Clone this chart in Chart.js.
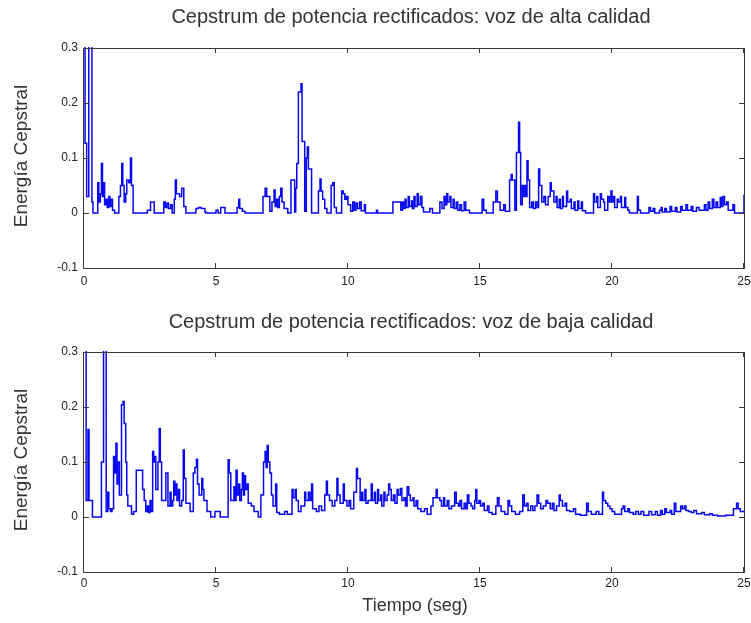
<!DOCTYPE html>
<html>
<head>
<meta charset="utf-8">
<script src="https://cdn.jsdelivr.net/npm/chart.js@4.4.1/dist/chart.umd.min.js"></script>
<style>
  html, body { margin: 0; padding: 0; background: #fff; }
  #wrap { position: relative; width: 751px; height: 623px; overflow: hidden; }
  canvas { position: absolute; left: 0; }
  #cTop { top: 0; }
  #cBot { top: 300px; }
</style>
</head>
<body>
<div id="wrap">
  <canvas id="cTop" width="751" height="300"></canvas>
  <canvas id="cBot" width="751" height="323"></canvas>
</div>
<script>
// ---- Data (time in seconds, value holds until the next time) ----
const topTitle = 'Cepstrum de potencia rectificados: voz de alta calidad';
const botTitle = 'Cepstrum de potencia rectificados: voz de baja calidad';
const yAxisTitle = 'Energía Cepstral';
const xAxisTitle = 'Tiempo (seg)';

const xTickValues = [0, 5, 10, 15, 20, 25];
const xTickLabels = ['0', '5', '10', '15', '20', '25'];
const yTickValues = [-0.1, 0, 0.1, 0.2, 0.3];
const yTickLabels = ['-0.1', '0', '0.1', '0.2', '0.3'];

const topTimes = [
  0.00,0.04,0.10,0.18,0.30,0.34,0.52,0.56,0.62,0.66,0.70,0.74,0.78,0.84,0.88,0.94,0.98,1.02,1.08,1.16,
  1.32,1.38,1.43,1.47,1.52,1.58,1.62,1.70,1.76,1.80,1.86,2.40,2.52,2.66,3.02,3.08,3.14,3.20,3.28,3.34,
  3.42,3.46,3.50,3.62,3.70,3.78,3.86,4.24,4.34,4.44,4.58,4.62,5.00,5.08,5.18,5.34,5.80,5.86,5.90,6.00,
  6.10,6.78,6.86,6.92,7.04,7.12,7.20,7.24,7.30,7.34,7.40,7.45,7.50,7.58,7.72,7.84,7.98,8.02,8.06,8.12,
  8.22,8.26,8.36,8.42,8.46,8.50,8.62,8.88,8.94,8.98,9.04,9.12,9.20,9.36,9.42,9.48,9.56,9.76,9.82,9.88,
  9.94,10.00,10.10,10.18,10.24,10.30,10.36,10.44,10.50,10.62,10.66,11.08,11.12,11.70,12.00,12.06,12.10,12.16,12.20,12.28,
  12.32,12.40,12.44,12.50,12.54,12.62,12.66,12.74,12.80,12.86,13.10,13.20,13.48,13.56,13.64,13.68,13.74,13.78,13.86,13.90,
  13.98,14.02,14.10,14.16,14.24,14.30,14.40,14.46,14.60,15.08,15.14,15.24,15.50,15.60,15.66,15.76,15.90,15.96,16.12,16.18,
  16.22,16.32,16.38,16.46,16.50,16.54,16.60,16.64,16.70,16.74,16.78,16.82,16.88,16.96,17.02,17.10,17.16,17.22,17.26,17.34,
  17.42,17.48,17.58,17.66,17.70,17.80,17.88,17.92,18.00,18.04,18.12,18.16,18.28,18.32,18.42,18.46,18.56,18.60,18.70,18.74,
  18.84,18.88,19.00,19.30,19.34,19.42,19.46,19.56,19.60,19.68,19.72,19.84,19.90,19.96,20.00,20.06,20.10,20.20,20.24,20.32,
  20.36,20.48,20.52,20.60,20.66,20.96,21.00,21.08,21.40,21.46,21.56,21.62,21.80,21.86,21.90,22.00,22.06,22.20,22.26,22.40,
  22.46,22.60,22.66,22.80,22.86,23.00,23.06,23.20,23.30,23.50,23.56,23.64,23.70,23.80,23.86,23.94,24.00,24.10,24.14,24.20,
  24.26,24.34,24.40,24.58,24.64,25.00,25.20
];
const topValues = [
  0.45,0.127,0.03,0.45,0.02,0,0.055,0.02,0.035,0.09,0.03,0.055,0.015,0.025,0.01,0.03,0.012,0.025,0.005,0,
  0.03,0.05,0.09,0.05,0.02,0.035,0.06,0.055,0.10,0.05,0,0.005,0.02,0,0.02,0.01,0.018,0.008,0.015,0,
  0.025,0.06,0.035,0.03,0.045,0.012,0,0.008,0.01,0.008,0.002,0,0.005,0,0.01,0,0.01,0.025,0.008,0.003,
  0,0.03,0.045,0.03,0.003,0.02,0.042,0.012,0.025,0.01,0.03,0.045,0.02,0.008,0,0.06,0.002,0.045,0.09,0.22,
  0.235,0.13,0.003,0.10,0.12,0.08,0,0.04,0.062,0.04,0.025,0.008,0,0.05,0.055,0.01,0,0.04,0.035,0.025,
  0.03,0.015,0.003,0.02,0.005,0.018,0.008,0.02,0.004,0.015,0,0.005,0,0.02,0.005,0.02,0.008,0.025,0.01,0.03,
  0.012,0.022,0.008,0.03,0.012,0.035,0.015,0.03,0.01,0.002,0.008,0,0.02,0.008,0.03,0.015,0.035,0.02,0.03,0.01,
  0.025,0.008,0.02,0.005,0.015,0.004,0.02,0.005,0,0.025,0.005,0,0.02,0.04,0.02,0.005,0.015,0.003,0.06,0.07,
  0.06,0.005,0.11,0.165,0.11,0.015,0.05,0.03,0.05,0.03,0.095,0.06,0.01,0.02,0.008,0.02,0.01,0.08,0.05,0.02,
  0.03,0.015,0.03,0.055,0.04,0.02,0.03,0.01,0.025,0.008,0.03,0.012,0.04,0.02,0.025,0.008,0.02,0.005,0.022,0.008,
  0.02,0.004,0,0.035,0.02,0.03,0.01,0.035,0.025,0.02,0.005,0.03,0.02,0.04,0.02,0.03,0.01,0.025,0.02,0.03,
  0.01,0.028,0.01,0.005,0,0.03,0.005,0,0.01,0.003,0.008,0,0.005,0.01,0.002,0.008,0.002,0.012,0.003,0.01,
  0.002,0.012,0.005,0.015,0.005,0.012,0.003,0.01,0.005,0.015,0.005,0.02,0.008,0.025,0.01,0.02,0.01,0.028,0.012,0.03,
  0.015,0.02,0.005,0.015,0,0.033,0.033
];

const botTimes = [
  0.00,0.08,0.15,0.19,0.32,0.66,0.74,0.84,0.90,0.94,1.00,1.06,1.12,1.17,1.21,1.25,1.28,1.34,1.42,1.48,
  1.52,1.58,1.62,1.66,1.80,1.88,1.98,2.22,2.28,2.34,2.40,2.44,2.50,2.54,2.60,2.64,2.68,2.72,2.80,2.85,
  2.89,2.94,3.10,3.18,3.26,3.30,3.36,3.40,3.44,3.48,3.52,3.58,3.62,3.70,3.76,3.80,3.86,4.02,4.14,4.20,
  4.26,4.30,4.36,4.46,4.50,4.54,4.66,4.80,4.96,5.16,5.46,5.50,5.56,5.68,5.72,5.76,5.80,5.86,5.90,5.96,
  6.00,6.04,6.08,6.12,6.18,6.22,6.34,6.44,6.60,6.70,6.80,6.86,6.90,6.94,6.98,7.04,7.10,7.16,7.26,7.30,
  7.40,7.60,7.70,7.88,7.92,8.00,8.04,8.12,8.22,8.36,8.40,8.50,8.56,8.62,8.66,8.80,8.90,9.00,9.12,9.18,
  9.22,9.30,9.40,9.50,9.58,9.62,9.70,9.82,9.86,9.96,10.04,10.10,10.22,10.32,10.36,10.46,10.52,10.56,10.64,10.68,
  10.76,10.88,10.92,11.00,11.04,11.12,11.16,11.24,11.28,11.36,11.40,11.48,11.54,11.58,11.64,11.72,11.78,11.86,11.90,11.98,
  12.04,12.12,12.18,12.24,12.30,12.36,12.46,12.50,12.58,12.64,12.76,12.90,13.00,13.14,13.22,13.34,13.38,13.48,13.54,13.62,
  13.66,13.76,13.82,13.92,14.04,14.10,14.18,14.24,14.30,14.40,14.46,14.52,14.58,14.66,14.72,14.80,14.84,14.88,14.96,15.02,
  15.10,15.16,15.28,15.34,15.46,15.60,15.66,15.72,15.80,15.94,16.06,16.12,16.20,16.34,16.50,16.62,16.68,16.76,16.82,16.92,
  17.00,17.08,17.16,17.22,17.30,17.40,17.50,17.56,17.66,17.74,17.80,17.90,18.00,18.04,18.12,18.22,18.28,18.40,18.54,18.62,
  18.80,19.04,19.10,19.22,19.40,19.50,19.64,19.68,19.76,19.84,19.92,20.00,20.10,20.36,20.42,20.48,20.60,20.66,20.80,20.90,
  21.00,21.10,21.20,21.40,21.50,21.64,21.72,21.84,21.90,22.00,22.06,22.20,22.26,22.36,22.42,22.60,22.66,22.74,22.80,22.90,
  23.00,23.10,23.20,23.40,23.50,23.70,23.80,24.00,24.30,24.60,24.72,24.78,24.86,25.00,25.20
];
const botValues = [
  0.45,0.03,0.159,0.03,0,0.10,0.45,0.01,0.045,0.015,0.01,0.015,0.11,0.08,0.134,0.06,0.10,0.04,0.204,0.21,
  0.17,0.10,0.04,0.02,0.005,0.01,0.085,0.05,0.03,0.01,0.02,0.008,0.03,0.01,0.119,0.10,0.11,0.05,0.10,0.161,
  0.10,0.03,0.08,0.02,0.045,0.02,0.03,0.065,0.04,0.06,0.03,0.05,0.02,0.03,0.122,0.07,0.025,0.01,0.08,0.09,
  0.105,0.06,0.04,0.07,0.05,0.03,0.01,0,0.01,0,0.104,0.08,0.03,0.055,0.03,0.085,0.04,0.06,0.03,0.05,
  0.08,0.04,0.075,0.05,0.06,0.025,0.02,0.01,0,0.04,0.10,0.119,0.09,0.13,0.10,0.08,0.04,0.02,0.06,0.008,
  0.005,0.01,0.005,0.05,0.035,0.05,0.03,0.01,0.02,0.045,0.03,0.045,0.03,0.06,0.015,0.01,0.02,0.012,0.04,0.065,
  0.04,0.03,0.02,0.03,0.07,0.04,0.025,0.06,0.03,0.02,0.03,0.015,0.045,0.088,0.07,0.03,0.045,0.03,0.05,0.025,
  0.03,0.06,0.03,0.045,0.025,0.05,0.03,0.04,0.02,0.045,0.03,0.04,0.06,0.05,0.03,0.04,0.025,0.05,0.04,0.052,
  0.03,0.035,0.02,0.055,0.04,0.03,0.035,0.02,0.03,0.015,0.01,0.015,0.005,0.02,0.035,0.05,0.035,0.03,0.02,0.035,
  0.02,0.03,0.015,0.02,0.045,0.025,0.02,0.03,0.015,0.025,0.015,0.04,0.025,0.02,0.015,0.03,0.05,0.025,0.03,0.02,
  0.025,0.012,0.02,0.008,0.005,0.02,0.035,0.02,0.01,0.005,0.03,0.02,0.01,0.005,0.01,0.04,0.02,0.025,0.012,0.02,
  0.012,0.02,0.04,0.025,0.015,0.02,0.03,0.025,0.015,0.025,0.012,0.02,0.04,0.03,0.02,0.025,0.012,0.01,0.015,0.005,
  0.003,0.025,0.01,0.005,0.01,0.005,0.045,0.03,0.025,0.02,0.015,0.01,0.005,0.015,0.02,0.01,0.015,0.008,0.005,0.01,
  0.005,0.01,0.003,0.01,0.004,0.01,0.003,0.012,0.005,0.015,0.008,0.012,0.005,0.025,0.01,0.02,0.015,0.02,0.012,0.01,
  0.008,0.012,0.006,0.008,0.004,0.006,0.003,0.002,0.003,0.015,0.025,0.015,0.01,0.012,0.012
];

// ---- Drawing ----
const FONT = "'Liberation Sans', Arial, Helvetica, sans-serif";

const framePlugin = {
  id: 'matlabFrame',
  afterDraw(chart, args, opts) {
    const ctx = chart.ctx;
    const { left, right, top, bottom } = chart.chartArea;
    const xs = chart.scales.x, ys = chart.scales.y;
    ctx.save();
    ctx.strokeStyle = '#3a3a3a';
    ctx.lineWidth = 1;
    ctx.strokeRect(Math.round(left) - 0.5, Math.round(top) + 0.5,
                   Math.round(right - left) + 1, Math.round(bottom - top));
    ctx.beginPath();
    xTickValues.forEach(v => {
      const px = Math.round(xs.getPixelForValue(v)) - 0.5;
      ctx.moveTo(px, bottom); ctx.lineTo(px, bottom - 5);
      ctx.moveTo(px, top); ctx.lineTo(px, top + 5);
    });
    yTickValues.forEach(v => {
      const py = Math.round(ys.getPixelForValue(v)) + 0.5;
      ctx.moveTo(left, py); ctx.lineTo(left + 5, py);
      ctx.moveTo(right, py); ctx.lineTo(right - 5, py);
    });
    ctx.stroke();

    ctx.fillStyle = '#333';
    ctx.textAlign = 'center';
    ctx.textBaseline = 'middle';
    ctx.font = '20px ' + FONT;
    ctx.fillText(opts.title, opts.titleX, opts.titleY);

    ctx.save();
    ctx.font = '19px ' + FONT;
    ctx.translate(opts.yLabelX, (top + bottom) / 2 - 2);
    ctx.rotate(-Math.PI / 2);
    ctx.fillText(yAxisTitle, 0, 0);
    ctx.restore();

    if (opts.xLabel) {
      ctx.font = '18px ' + FONT;
      ctx.fillText(opts.xLabel, opts.xLabelX, opts.xLabelY);
    }
    ctx.restore();
  }
};

function makeChart(canvasId, times, values, cfg) {
  const points = times.map((t, i) => ({ x: t, y: values[i] }));
  return new Chart(document.getElementById(canvasId), {
    type: 'line',
    data: {
      datasets: [{
        data: points,
        stepped: true,
        borderColor: '#0808f0',
        borderWidth: 1.5,
        pointRadius: 0,
        fill: false,
        clip: { left: 1, top: 1, right: 6, bottom: 1 }
      }]
    },
    options: {
      responsive: false,
      animation: false,
      devicePixelRatio: 1,
      layout: { padding: { top: cfg.padTop, right: 7, left: 0, bottom: 0 } },
      plugins: {
        legend: { display: false },
        title: { display: false },
        tooltip: { enabled: false },
        matlabFrame: cfg.frame
      },
      scales: {
        x: {
          type: 'linear',
          min: 0, max: 25,
          grid: { display: false, drawTicks: false },
          border: { display: false },
          afterBuildTicks: s => { s.ticks = xTickValues.map(v => ({ value: v })); },
          ticks: {
            padding: cfg.xTickPad,
            color: '#222',
            font: { family: FONT, size: 12 },
            maxRotation: 0,
            autoSkip: false,
            callback: (v) => xTickLabels[xTickValues.indexOf(v)]
          },
          afterFit: s => { s.height = cfg.xHeight; s.paddingLeft = 0; s.paddingRight = 0; }
        },
        y: {
          type: 'linear',
          min: -0.1, max: 0.3,
          grid: { display: false, drawTicks: false },
          border: { display: false },
          afterBuildTicks: s => { s.ticks = yTickValues.map(v => ({ value: v })); },
          ticks: {
            padding: 6,
            color: '#222',
            font: { family: FONT, size: 12 },
            autoSkip: false,
            callback: (v) => {
              const i = yTickValues.findIndex(t => Math.abs(t - v) < 1e-9);
              return yTickLabels[i];
            }
          },
          afterFit: s => { s.width = 84; }
        }
      }
    },
    plugins: [framePlugin]
  });
}

makeChart('cTop', topTimes, topValues, {
  padTop: 48, xHeight: 32, xTickPad: 6,
  frame: { title: topTitle, titleX: 411, titleY: 17, yLabelX: 22 }
});
makeChart('cBot', botTimes, botValues, {
  padTop: 52, xHeight: 51, xTickPad: 4,
  frame: { title: botTitle, titleX: 411, titleY: 22, yLabelX: 22,
           xLabel: xAxisTitle, xLabelX: 415, xLabelY: 306 }
});
</script>
</body>
</html>
